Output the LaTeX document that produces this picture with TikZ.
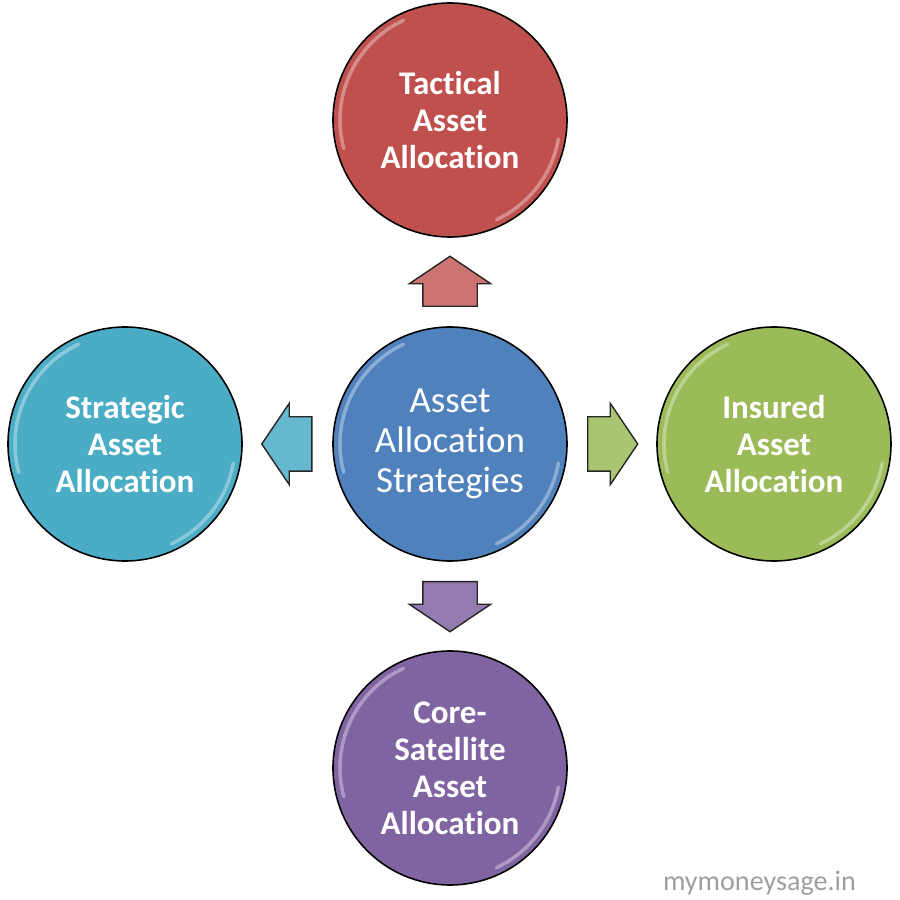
\documentclass[tikz,border=0pt]{standalone}
\usepackage{fontspec}
\setmainfont{Carlito}[Ligatures=NoCommon]
\usepackage{tikz}
\usetikzlibrary{positioning,calc,shapes.arrows}

\definecolor{tacred}{HTML}{C0504D}
\definecolor{cenblue}{HTML}{4F81BD}
\definecolor{insgreen}{HTML}{9BBB59}
\definecolor{corpurple}{HTML}{8064A2}
\definecolor{strcyan}{HTML}{4BACC6}

\begin{document}
\begin{tikzpicture}[
    ball/.style={circle, draw=black, line width=0.9pt, minimum size=4.68cm, inner sep=0pt,
        align=center, text=white, font=\fontsize{18.8}{21}\bfseries\selectfont},
    blockarrow/.style={single arrow, draw=black!85, line width=0.8pt, minimum height=1.0cm,
        minimum width=1.6cm, single arrow head extend=0.27cm, single arrow tip angle=112,
        inner xsep=0pt, inner ysep=0.53cm, anchor=tail},
    gloss/.style={white, opacity=0.35, line width=2pt, line cap=round}
]
    \useasboundingbox (0,0) rectangle (18,18);

    % the five balls
    \node[ball, fill=cenblue, font=\fontsize{21}{22.8}\selectfont] (cen) at (9.0,9.12) {Asset\\Allocation\\Strategies};
    \node[ball, fill=tacred] (tac) at (9.0,15.6) {Tactical\\Asset\\Allocation};
    \node[ball, fill=strcyan] (str) at (2.5,9.12) {Strategic\\Asset\\Allocation};
    \node[ball, fill=insgreen] (ins) at (15.48,9.12) {Insured\\Asset\\Allocation};
    \node[ball, fill=corpurple] (cor) at (9.0,2.64) {Core-\\Satellite\\Asset\\Allocation};

    % shine near the rims
    \foreach \n in {cen,tac,str,ins,cor} {
        \draw[gloss] ($(\n.center)+(115:2.2)$) arc[start angle=115, end angle=195, radius=2.2];
        \draw[gloss] ($(\n.center)+(-10:2.2)$) arc[start angle=-10, end angle=-65, radius=2.2];
    }

    % block arrows between the balls, tail half a length before the middle of the gap
    \node[blockarrow, fill=tacred!80!white, rotate=90] (aup) at ($(cen.north)!.5!(tac.south) + (0,-0.5)$) {};
    \node[blockarrow, fill=strcyan!85!white, rotate=180] (aleft) at ($(cen.west)!.5!(str.east) + (0.5,0)$) {};
    \node[blockarrow, fill=insgreen!85!white] (aright) at ($(cen.east)!.5!(ins.west) + (-0.5,0)$) {};
    \node[blockarrow, fill=corpurple!85!white, rotate=270] (adown) at ($(cen.south)!.5!(cor.north) + (0,0.5)$) {};

    % watermark
    \node[anchor=base east, text=black!38, font=\fontsize{16}{18}\selectfont] (wm) at (17.24,0.2) {mymoneysage.in};
\end{tikzpicture}
\end{document}
